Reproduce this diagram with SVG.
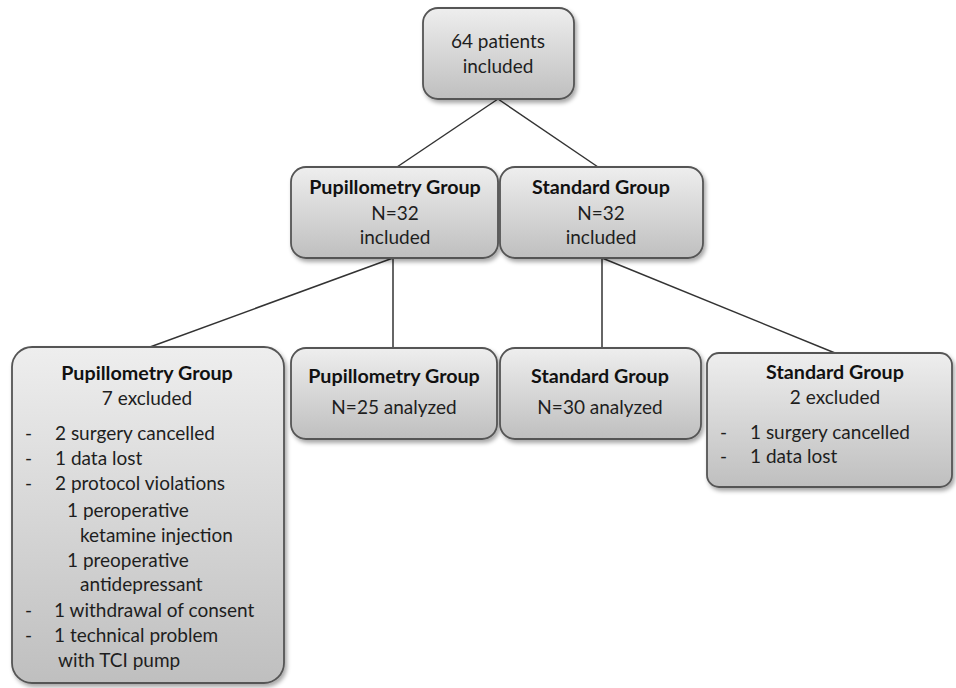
<svg xmlns="http://www.w3.org/2000/svg" width="956" height="688" viewBox="0 0 956 688">
<defs>
<linearGradient id="g" x1="0" y1="0" x2="0" y2="1">
<stop offset="0" stop-color="#eeeeee"/>
<stop offset="1" stop-color="#bfbfbf"/>
</linearGradient>
<filter id="sh" x="-10%" y="-10%" width="130%" height="130%">
<feDropShadow dx="2" dy="3" stdDeviation="2" flood-color="#000" flood-opacity="0.35"/>
</filter>
<style>
.box{fill:url(#g);stroke:#555;stroke-width:1.8;filter:url(#sh)}
text{font-family:Lato,"Open Sans","Liberation Sans",sans-serif;font-size:19px;fill:#1e1e1e}
.c{text-anchor:middle}
.b{font-weight:bold;fill:#111;font-size:19.7px}
.ln{stroke:#333;stroke-width:1.5;fill:none}
</style>
</defs>
<rect width="956" height="688" fill="#fff"/>
<g id="connectors">
<line class="ln" x1="498" y1="99" x2="397" y2="167"/>
<line class="ln" x1="498" y1="99" x2="598" y2="167"/>
<line class="ln" x1="393" y1="258" x2="150" y2="347"/>
<line class="ln" x1="393" y1="258" x2="393" y2="348"/>
<line class="ln" x1="602" y1="258" x2="602" y2="348"/>
<line class="ln" x1="602" y1="258" x2="835" y2="353"/>
</g>
<g id="n-top">
<rect class="box" x="423" y="8" width="151" height="91" rx="15"/>
<text class="c" x="498" y="48">64 patients</text>
<text class="c" x="498" y="73">included</text>
</g>
<g id="n-pupil-inc">
<rect class="box" x="291" y="167" width="207" height="91" rx="15"/>
<text class="c b" x="395" y="194">Pupillometry Group</text>
<text class="c" x="395" y="220">N=32</text>
<text class="c" x="395" y="244">included</text>
</g>
<g id="n-std-inc">
<rect class="box" x="500" y="167" width="203" height="91" rx="15"/>
<text class="c b" x="601" y="194">Standard Group</text>
<text class="c" x="601" y="220">N=32</text>
<text class="c" x="601" y="244">included</text>
</g>
<g id="n-pupil-exc">
<rect class="box" x="12" y="347" width="272" height="336" rx="20"/>
<text class="c b" x="147" y="380">Pupillometry Group</text>
<text class="c" x="147" y="405">7 excluded</text>
<text x="25" y="440">-</text><text x="55" y="440">2 surgery cancelled</text>
<text x="25" y="465">-</text><text x="55" y="465">1 data lost</text>
<text x="25" y="490">-</text><text x="55" y="490">2 protocol violations</text>
<text x="67" y="517">1 peroperative</text>
<text x="80" y="542">ketamine injection</text>
<text x="67" y="567">1 preoperative</text>
<text x="80" y="591">antidepressant</text>
<text x="25" y="617">-</text><text x="54" y="617">1 withdrawal of consent</text>
<text x="25" y="642">-</text><text x="54" y="642">1 technical problem</text>
<text x="58" y="667">with TCI pump</text>
</g>
<g id="n-pupil-an">
<rect class="box" x="291" y="348" width="206" height="91" rx="15"/>
<text class="c b" x="394" y="383">Pupillometry Group</text>
<text class="c" x="394" y="414">N=25 analyzed</text>
</g>
<g id="n-std-an">
<rect class="box" x="500" y="348" width="201" height="91" rx="15"/>
<text class="c b" x="600" y="383">Standard Group</text>
<text class="c" x="600" y="414">N=30 analyzed</text>
</g>
<g id="n-std-exc">
<rect class="box" x="707" y="353" width="245" height="134" rx="12"/>
<text class="c b" x="835" y="379">Standard Group</text>
<text class="c" x="835" y="404">2 excluded</text>
<text x="720" y="439">-</text><text x="750" y="439">1 surgery cancelled</text>
<text x="720" y="463">-</text><text x="750" y="463">1 data lost</text>
</g>
</svg>
